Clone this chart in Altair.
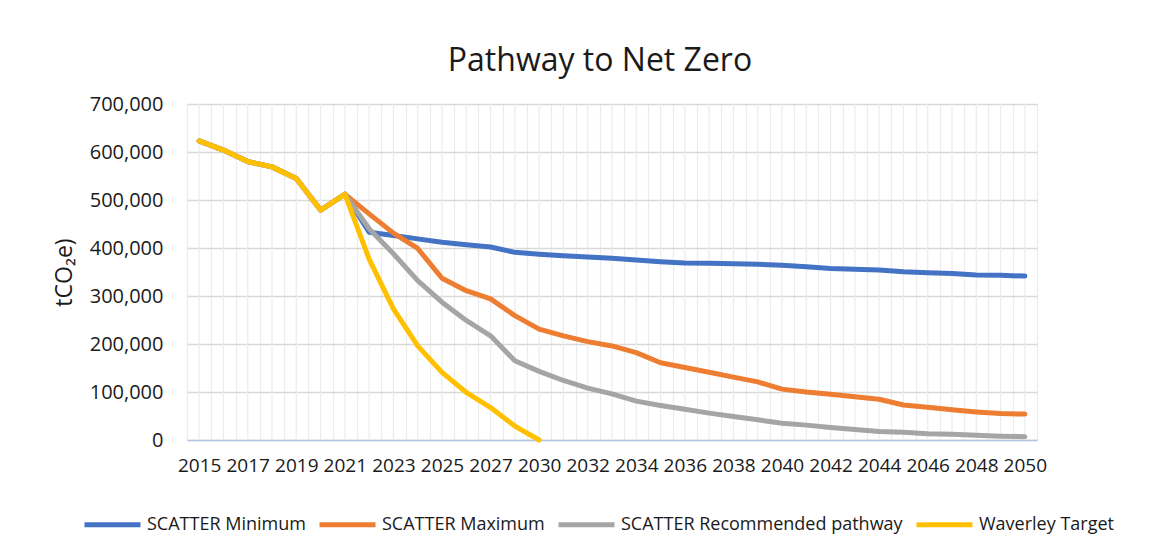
import altair as alt
import pandas as pd

# Categories (note: the source axis has no 2028 category)
years = [2015, 2016, 2017, 2018, 2019, 2020, 2021, 2022, 2023, 2024, 2025, 2026, 2027,
         2029, 2030, 2031, 2032, 2033, 2034, 2035, 2036, 2037, 2038, 2039, 2040,
         2041, 2042, 2043, 2044, 2045, 2046, 2047, 2048, 2049, 2050]

history = [623000, 604000, 580000, 569000, 545000, 479000, 512000]

scatter_min = history + [433000, 426000, 419000, 412000, 407000, 402000, 391000,
                         387000, 384000, 381000, 378500, 375000, 371500, 369000, 368000,
                         367000, 366000, 364000, 361000, 357500, 355500, 354000, 350500,
                         348500, 347000, 344000, 343000, 341500]

scatter_max = history + [471000, 431000, 399000, 337000, 311000, 294000, 259000,
                         231000, 217000, 205000, 196000, 182000, 161000, 151000, 141000,
                         131000, 121000, 106000, 100000, 95500, 90000, 85000, 73000,
                         68000, 63000, 58500, 55000, 54000]

scatter_rec = history + [440000, 388000, 332000, 287000, 249000, 217000, 165000,
                         143000, 124000, 108000, 96000, 81000, 72000, 64000, 56000,
                         49000, 42000, 35000, 31000, 26000, 22000, 17500, 16000,
                         13000, 12000, 10000, 8000, 7000]

waverley = history + [377000, 273000, 196000, 141000, 99000, 67500, 29000, 0]

series_names = ["SCATTER Minimum", "SCATTER Maximum", "SCATTER Recommended pathway", "Waverley Target"]
series_values = [scatter_min, scatter_max, scatter_rec, waverley]
series_colors = ["#4472C4", "#ED7D31", "#A5A5A5", "#FFC000"]

y_ticks = [0, 100000, 200000, 300000, 400000, 500000, 600000, 700000]
label_years = years[::2]

rows = []
for name, vals in zip(series_names, series_values):
    for y, v in zip(years, vals):
        rows.append({"year": y, "value": v, "series": name})
df = pd.DataFrame(rows)
grid_df = pd.DataFrame({"year": years})

W, H = 850, 336
FONT = "Open Sans"

xscale = alt.Scale(type="band", domain=years, paddingInner=0, paddingOuter=0)

label_expr = "indexof([" + ",".join(str(y) for y in label_years) + "], datum.value) >= 0 ? datum.label : ''"

center_grid = alt.Chart(grid_df).mark_rule(color="#ececec", strokeWidth=1.2).encode(
    x=alt.X("year:O", scale=xscale, bandPosition=0.5,
            axis=alt.Axis(title=None, grid=True, tickBand="extent", gridColor="#ececec",
                          gridWidth=1.2, ticks=False, labelExpr=label_expr, labelOverlap=False,
                          labelAngle=0, labelFont=FONT, labelFontSize=19, labelColor="#1a1a1a",
                          labelPadding=16, domainColor="#b4c8e8", domainWidth=1.5)),
    y=alt.value(0),
    y2=alt.value(H),
)

lines = alt.Chart(df).mark_line(strokeWidth=5, strokeCap="round", strokeJoin="round").encode(
    x=alt.X("year:O", scale=xscale, bandPosition=0.5),
    y=alt.Y("value:Q", scale=alt.Scale(domain=[0, 700000]),
            axis=alt.Axis(title="tCO₂e)", values=y_ticks,
                          format=",.0f", domain=False, ticks=False, gridColor="#d9d9d9", gridWidth=1.3,
                          labelFont=FONT, labelFontSize=20, labelColor="#1a1a1a", labelPadding=24,
                          titleFont=FONT, titleFontSize=23, titleFontWeight="normal", titleColor="#1a1a1a",
                          titleX=-123, titleY=H / 2, titleAlign="center", titleBaseline="middle")),
    color=alt.Color("series:N", sort=series_names,
                    scale=alt.Scale(domain=series_names, range=series_colors),
                    legend=alt.Legend(orient="none", legendX=-105, legendY=390, direction="horizontal",
                                      columns=4, title=None, symbolType="stroke", symbolStrokeWidth=5,
                                      symbolSize=3136, labelFont=FONT, labelFontSize=18,
                                      labelColor="#1a1a1a", columnPadding=3, labelOffset=4,
                                      padding=0, labelLimit=0)),
)

chart = alt.layer(center_grid, lines).properties(
    width=W, height=H,
    autosize=alt.AutoSizeParams(type="none"),
    padding={"left": 179, "top": 96, "right": 120, "bottom": 95},
    title=alt.TitleParams("Pathway to Net Zero", font=FONT, fontSize=32, fontWeight="normal",
                          color="#1a1a1a", anchor="middle", offset=16, dx=-12),
).configure_view(stroke=None).configure(background="white")

chart.save("out.html", embed_options={"renderer": "svg", "actions": False})
